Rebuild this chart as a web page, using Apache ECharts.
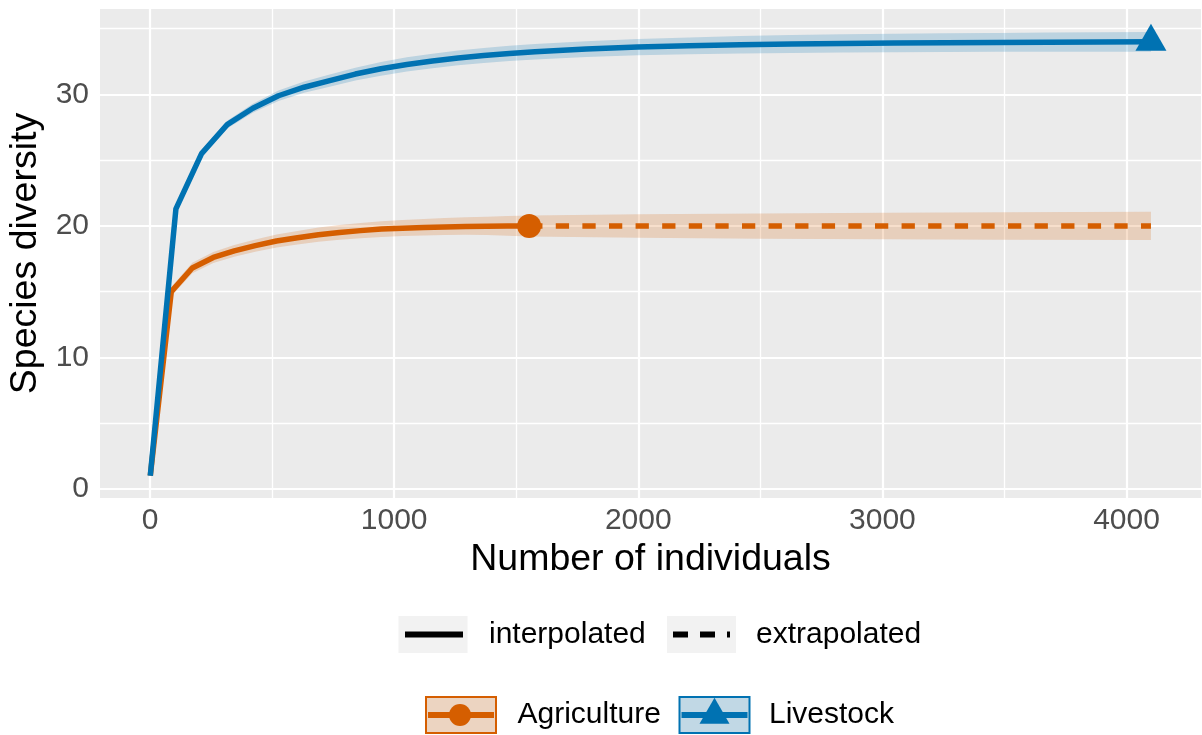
<!DOCTYPE html>
<html>
<head>
<meta charset="utf-8">
<script src="https://cdn.jsdelivr.net/npm/echarts@6/dist/echarts.min.js"></script>
<style>
  html, body { margin: 0; padding: 0; background: #ffffff; }
  #chart { width: 1202px; height: 735px; }
</style>
</head>
<body>
<div id="chart"></div>
<script>
// Sample-size-based rarefaction / extrapolation curves (species diversity vs. number of individuals)

// Agriculture: interpolated part (rarefaction up to the observed sample)
const agriInterpX  = [1, 87, 173, 259, 345, 431, 518, 604, 690, 776, 862, 948, 1034, 1121, 1207, 1293, 1379, 1465, 1553];
const agriInterpY  = [1.0, 15.0, 16.8, 17.6, 18.1, 18.5, 18.85, 19.1, 19.33, 19.5, 19.64, 19.76, 19.83, 19.88, 19.92, 19.95, 19.97, 19.99, 20.0];
const agriInterpLo = [1.0, 14.65, 16.4, 17.18, 17.65, 18.03, 18.35, 18.58, 18.79, 18.94, 19.06, 19.16, 19.23, 19.27, 19.3, 19.33, 19.3, 19.25, 19.2];
const agriInterpHi = [1.0, 15.35, 17.2, 18.02, 18.55, 18.97, 19.35, 19.62, 19.87, 20.06, 20.22, 20.36, 20.45, 20.53, 20.6, 20.65, 20.7, 20.75, 20.8];

// Agriculture: extrapolated part
const agriExtraX  = [1553, 2000, 2500, 3000, 3500, 4100];
const agriExtraY  = [20.0, 20.0, 20.0, 20.0, 20.0, 20.0];
const agriExtraLo = [19.2, 19.1, 19.03, 18.98, 18.95, 18.93];
const agriExtraHi = [20.8, 20.88, 20.95, 21.0, 21.04, 21.07];

// Livestock: interpolated only (its sample is the largest)
const liveX  = [1, 106, 211, 316, 421, 526, 631, 736, 841, 946, 1052, 1157, 1262, 1367, 1472, 1577, 1787, 1997, 2208, 2418, 2628, 2838, 3048, 3259, 3469, 3679, 3889, 4100];
const liveY  = [1.0, 21.3, 25.5, 27.7, 28.95, 29.9, 30.55, 31.05, 31.55, 31.95, 32.28, 32.55, 32.78, 32.97, 33.12, 33.25, 33.45, 33.6, 33.7, 33.78, 33.84, 33.88, 33.91, 33.94, 33.96, 33.98, 33.99, 34.0];
const liveLo = [1.0, 21.1, 25.25, 27.4, 28.6, 29.5, 30.12, 30.59, 31.06, 31.43, 31.74, 32.0, 32.22, 32.4, 32.54, 32.66, 32.85, 32.98, 33.06, 33.12, 33.16, 33.19, 33.21, 33.23, 33.24, 33.25, 33.25, 33.25];
const liveHi = [1.0, 21.5, 25.75, 28.0, 29.3, 30.3, 30.98, 31.51, 32.04, 32.47, 32.82, 33.1, 33.34, 33.54, 33.7, 33.84, 34.05, 34.22, 34.34, 34.44, 34.52, 34.57, 34.61, 34.65, 34.68, 34.71, 34.73, 34.75];

// Axis ticks and grid lines
const xTicks = [0, 1000, 2000, 3000, 4000];
const xMinor = [500, 1500, 2500, 3500];
const yTicks = [0, 10, 20, 30];
const yMinor = [5, 15, 25, 35];

const ORANGE = '#D55E00';
const BLUE = '#0072B2';
const FONT = '"Liberation Sans", Arial, Helvetica, sans-serif';

const zip = (xs, ys) => xs.map((x, i) => [x, ys[i]]);

// Confidence ribbon drawn as one polygon through the axis scales
function ribbon(xs, lo, hi, fill) {
  return {
    type: 'custom',
    silent: true,
    z: 2,
    encode: { x: 0, y: [1, 2] },
    data: xs.map((x, i) => [x, lo[i], hi[i]]),
    renderItem: function (params, api) {
      if (params.dataIndex !== 0) return null;
      const pts = [];
      for (let i = 0; i < xs.length; i++) pts.push(api.coord([xs[i], hi[i]]));
      for (let i = xs.length - 1; i >= 0; i--) pts.push(api.coord([xs[i], lo[i]]));
      return { type: 'polygon', shape: { points: pts }, style: { fill: fill } };
    }
  };
}

const gridLines = [];
xTicks.forEach(v => gridLines.push({ xAxis: v, lineStyle: { width: 2.2 } }));
xMinor.forEach(v => gridLines.push({ xAxis: v, lineStyle: { width: 1.3 } }));
yTicks.forEach(v => gridLines.push({ yAxis: v, lineStyle: { width: 2.2 } }));
yMinor.forEach(v => gridLines.push({ yAxis: v, lineStyle: { width: 1.3 } }));

const chart = echarts.init(document.getElementById('chart'));

const option = {
  animation: false,
  backgroundColor: '#ffffff',
  textStyle: { fontFamily: FONT },
  grid: {
    left: 100, top: 9, width: 1101, height: 489,
    show: true, backgroundColor: '#EBEBEB', borderWidth: 0,
    containLabel: false, outerBoundsMode: 'none'
  },
  xAxis: {
    type: 'value', min: -205, max: 4305,
    axisLine: { show: false },
    axisTick: { show: true, customValues: xTicks, length: 6, lineStyle: { color: '#333333', width: 2 } },
    axisLabel: { customValues: xTicks, fontSize: 30, color: '#4D4D4D', margin: 8, fontFamily: FONT, formatter: v => String(v) },
    splitLine: { show: false },
    name: 'Number of individuals', nameLocation: 'middle', nameGap: 43,
    nameTextStyle: { fontSize: 37.5, color: '#000000', fontFamily: FONT }
  },
  yAxis: {
    type: 'value', min: -0.7, max: 36.5,
    axisLine: { show: false },
    axisTick: { show: true, customValues: yTicks, length: 6, lineStyle: { color: '#333333', width: 2 } },
    axisLabel: { customValues: yTicks, fontSize: 30, color: '#4D4D4D', margin: 11, fontFamily: FONT, formatter: v => String(v) },
    splitLine: { show: false },
    name: 'Species diversity', nameLocation: 'middle', nameGap: 38, nameRotate: 90,
    nameTextStyle: { fontSize: 37.5, color: '#000000', fontFamily: FONT }
  },
  series: [
    {
      type: 'line', data: [], z: 1, silent: true,
      markLine: {
        z: 1, silent: true, symbol: 'none', animation: false,
        label: { show: false },
        lineStyle: { color: '#FFFFFF', type: 'solid' },
        emphasis: { disabled: true },
        data: gridLines
      }
    },
    ribbon(agriInterpX, agriInterpLo, agriInterpHi, 'rgba(213,94,0,0.2)'),
    ribbon(agriExtraX, agriExtraLo, agriExtraHi, 'rgba(213,94,0,0.2)'),
    ribbon(liveX, liveLo, liveHi, 'rgba(0,114,178,0.2)'),
    {
      name: 'Agriculture', type: 'line', z: 3, symbol: 'none', silent: true,
      data: zip(agriInterpX, agriInterpY),
      lineStyle: { color: ORANGE, width: 5.5 }
    },
    {
      name: 'Agriculture', type: 'line', z: 3, symbol: 'none', silent: true,
      data: zip(agriExtraX, agriExtraY),
      lineStyle: { color: ORANGE, width: 5.5, type: [13.3, 13.3], cap: 'butt' }
    },
    {
      name: 'Livestock', type: 'line', z: 4, symbol: 'none', silent: true,
      data: zip(liveX, liveY),
      lineStyle: { color: BLUE, width: 5.5 }
    },
    {
      name: 'Agriculture', type: 'scatter', z: 5, silent: true,
      symbol: 'circle', symbolSize: 24,
      itemStyle: { color: ORANGE, opacity: 1 },
      data: [[agriInterpX[agriInterpX.length - 1], agriInterpY[agriInterpY.length - 1]]]
    },
    {
      name: 'Livestock', type: 'scatter', z: 5, silent: true,
      symbol: 'triangle', symbolSize: [31, 27], symbolOffset: [0, -4.5],
      itemStyle: { color: BLUE, opacity: 1 },
      data: [[liveX[liveX.length - 1], liveY[liveY.length - 1]]]
    }
  ],
  graphic: [
    // line type legend
    { type: 'rect', shape: { x: 398.5, y: 616, width: 69, height: 37 }, style: { fill: '#F2F2F2' }, silent: true },
    { type: 'line', shape: { x1: 405, y1: 634.5, x2: 463, y2: 634.5 }, style: { stroke: '#000000', lineWidth: 6 }, silent: true },
    { type: 'text', silent: true, style: { text: 'interpolated', x: 489, y: 634.5, font: '30px ' + FONT, fill: '#000000', textVerticalAlign: 'middle', verticalAlign: 'middle' } },
    { type: 'rect', shape: { x: 667, y: 616, width: 69, height: 37 }, style: { fill: '#F2F2F2' }, silent: true },
    { type: 'line', shape: { x1: 673, y1: 634.5, x2: 730, y2: 634.5 }, style: { stroke: '#000000', lineWidth: 6, lineDash: [15, 12] }, silent: true },
    { type: 'text', silent: true, style: { text: 'extrapolated', x: 756, y: 634.5, font: '30px ' + FONT, fill: '#000000', textVerticalAlign: 'middle', verticalAlign: 'middle' } },
    // group legend
    { type: 'rect', shape: { x: 426, y: 697, width: 70, height: 36 }, style: { fill: '#F2F2F2' }, silent: true },
    { type: 'rect', shape: { x: 426, y: 697, width: 70, height: 36 }, style: { fill: 'rgba(213,94,0,0.2)', stroke: ORANGE, lineWidth: 2 }, silent: true },
    { type: 'line', shape: { x1: 428, y1: 715, x2: 494, y2: 715 }, style: { stroke: ORANGE, lineWidth: 6 }, silent: true },
    { type: 'circle', shape: { cx: 460, cy: 715, r: 11 }, style: { fill: ORANGE }, silent: true },
    { type: 'text', silent: true, style: { text: 'Agriculture', x: 517.5, y: 715, font: '30px ' + FONT, fill: '#000000', textVerticalAlign: 'middle', verticalAlign: 'middle' } },
    { type: 'rect', shape: { x: 679.5, y: 697, width: 70, height: 36 }, style: { fill: '#F2F2F2' }, silent: true },
    { type: 'rect', shape: { x: 679.5, y: 697, width: 70, height: 36 }, style: { fill: 'rgba(0,114,178,0.2)', stroke: BLUE, lineWidth: 2 }, silent: true },
    { type: 'line', shape: { x1: 681.5, y1: 715, x2: 747.5, y2: 715 }, style: { stroke: BLUE, lineWidth: 6 }, silent: true },
    { type: 'polygon', shape: { points: [[714.5, 697.7], [699.5, 723.7], [729.5, 723.7]] }, style: { fill: BLUE }, silent: true },
    { type: 'text', silent: true, style: { text: 'Livestock', x: 769, y: 715, font: '30px ' + FONT, fill: '#000000', textVerticalAlign: 'middle', verticalAlign: 'middle' } }
  ]
};

chart.setOption(option);
</script>
</body>
</html>
